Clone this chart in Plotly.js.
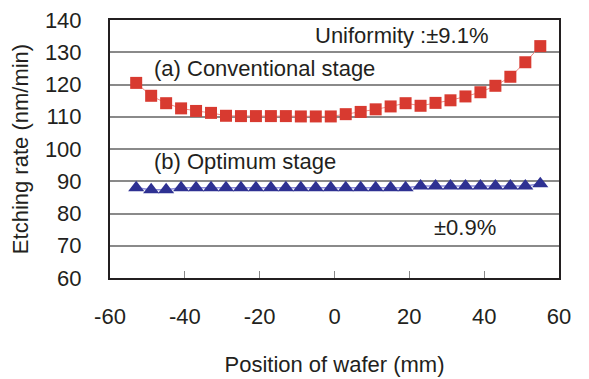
<!DOCTYPE html>
<html>
<head>
<meta charset="utf-8">
<script src="https://cdn.plot.ly/plotly-3.0.1.min.js"></script>
<style>html,body{margin:0;padding:0;background:#fff;}#chart{width:589px;height:379px;}</style>
</head>
<body>
<div id="chart"></div>
<script>
// Position of wafer (mm)
const positions = [-53, -49, -45, -41, -37, -33, -29, -25, -21, -17, -13, -9, -5, -1,
                   3, 7, 11, 15, 19, 23, 27, 31, 35, 39, 43, 47, 51, 55];
// (a) Conventional stage etching rate (nm/min)
const conventional = [120.5, 116.5, 114.2, 112.6, 111.8, 111.2, 110.3, 110.2, 110.2, 110.2, 110.2, 110.1, 110.1, 110.1,
                      110.8, 111.5, 112.3, 113.2, 114.2, 113.4, 114.3, 115.1, 116.3, 117.6, 119.6, 122.4, 126.9, 131.9];
// (b) Optimum stage etching rate (nm/min)
const optimum = [88.0, 87.4, 87.4, 88.0, 88.0, 88.0, 88.0, 88.0, 88.0, 88.0, 88.0, 88.0, 88.0, 88.0,
                 88.0, 88.0, 88.0, 88.0, 88.0, 88.5, 88.5, 88.5, 88.5, 88.5, 88.5, 88.5, 88.5, 89.2];
const xTicks = [-60, -40, -20, 0, 20, 40, 60];
const yTicks = [60, 70, 80, 90, 100, 110, 120, 130, 140];

const FONT = 'Liberation Sans, Arial, sans-serif';
const FS = 22;

const traces = [
  {
    x: positions, y: conventional, type: 'scatter', mode: 'lines+markers',
    line: {color: '#f08c86', width: 1},
    marker: {symbol: 'square', size: 12, color: '#d83a30'},
    cliponaxis: false
  },
  {
    x: positions, y: optimum, type: 'scatter', mode: 'lines+markers',
    line: {color: '#8c8cd8', width: 1.5},
    marker: {symbol: 'triangle-up', size: 14, color: '#2e3192'},
    cliponaxis: false
  }
];

const layout = {
  width: 589, height: 379,
  margin: {l: 110, r: 30, t: 20, b: 101},
  paper_bgcolor: '#fff', plot_bgcolor: '#fff',
  showlegend: false,
  font: {family: FONT, size: FS, color: '#231f20'},
  xaxis: {
    range: [-60, 60], tickvals: xTicks, ticktext: xTicks.map(String),
    showgrid: false, zeroline: false,
    ticks: 'inside', ticklen: 7, tickwidth: 1, tickcolor: '#888',
    showline: true, linecolor: '#231f20', linewidth: 2, mirror: true,
    ticklabelstandoff: 18,
    tickfont: {family: FONT, size: FS, color: '#231f20'},
    title: {text: 'Position of wafer (mm)', font: {family: FONT, size: FS, color: '#231f20'}, standoff: 28}
  },
  yaxis: {
    range: [60, 140], tickvals: yTicks, ticktext: yTicks.map(String),
    showgrid: true, gridcolor: '#8a8a8a', gridwidth: 2, zeroline: false,
    ticks: 'inside', ticklen: 5, tickcolor: '#888',
    showline: true, linecolor: '#231f20', linewidth: 2, mirror: true,
    ticklabelstandoff: 22,
    tickfont: {family: FONT, size: FS, color: '#231f20'},
    title: {text: 'Etching rate (nm/min)', font: {family: FONT, size: FS, color: '#231f20'}, standoff: 10}
  },
  annotations: [
    {x: 17.8, y: 135.2, xref: 'x', yref: 'y', text: 'Uniformity :±9.1%', showarrow: false,
     xanchor: 'center', yanchor: 'middle', font: {family: FONT, size: FS, color: '#231f20'}},
    {x: -48.8, y: 125.1, xref: 'x', yref: 'y', text: '(a) Conventional stage', showarrow: false,
     xanchor: 'left', yanchor: 'middle', font: {family: FONT, size: FS, color: '#231f20'}},
    {x: -48.8, y: 96.1, xref: 'x', yref: 'y', text: '(b) Optimum stage', showarrow: false,
     xanchor: 'left', yanchor: 'middle', font: {family: FONT, size: FS, color: '#231f20'}},
    {x: 26.1, y: 75.8, xref: 'x', yref: 'y', text: '±0.9%', showarrow: false,
     xanchor: 'left', yanchor: 'middle', font: {family: FONT, size: FS, color: '#231f20'}}
  ]
};

Plotly.newPlot('chart', traces, layout, {staticPlot: true, displayModeBar: false});
</script>
</body>
</html>
